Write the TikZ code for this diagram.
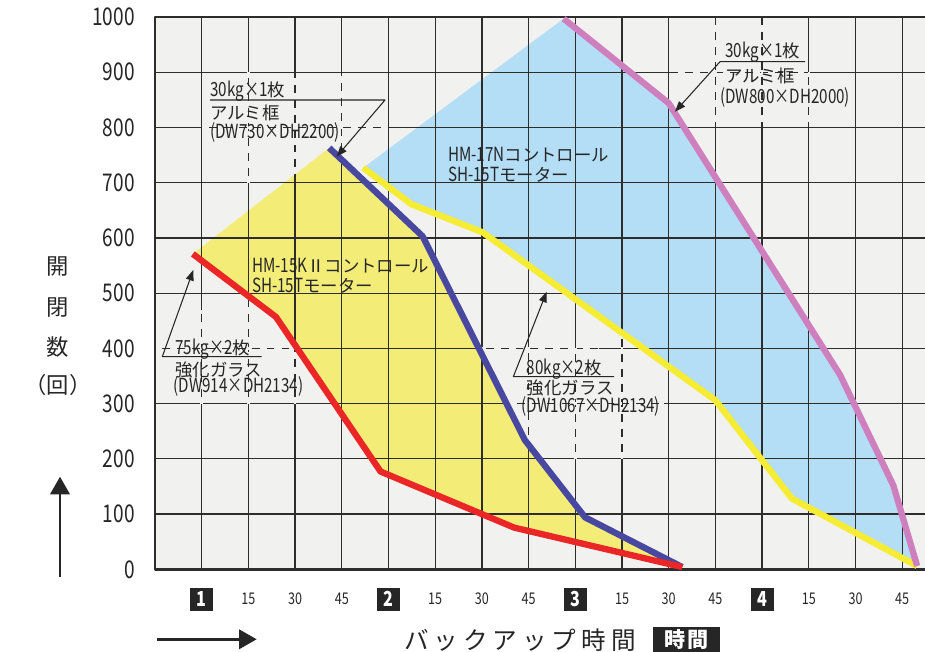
\documentclass[tikz,border=0pt]{standalone}
\usepackage{fontspec}
\setmainfont{Noto Sans CJK JP}
\newfontfamily\cnd{Noto Sans CJK JP}[FakeStretch=0.78, Scale=1.12]
\usetikzlibrary{arrows.meta}

\definecolor{plotbg}{RGB}{241,241,239}
\definecolor{gridcol}{RGB}{45,45,45}
\definecolor{fillyel}{RGB}{243,237,120}
\definecolor{fillblu}{RGB}{180,221,246}
\definecolor{redline}{RGB}{234,38,38}
\definecolor{bluline}{RGB}{72,72,160}
\definecolor{yelline}{RGB}{246,236,52}
\definecolor{pinkline}{RGB}{206,128,190}
\definecolor{inkcol}{RGB}{38,38,38}

\begin{document}
\begin{tikzpicture}[x=0.934cm, y=1.1046cm, line join=round,
        grid_style/.style={draw=gridcol, line width=0.7pt},
        frame_style/.style={draw=gridcol, line width=1.5pt},
        erase_style/.style={draw=plotbg, line width=1.4pt, dash pattern=on 4pt off 4.5pt},
        curve_style/.style={line width=3.6pt},
        note_line/.style={draw=inkcol, line width=0.6pt, -{Triangle[length=6pt,width=4.5pt]}},
        big_arrow/.style={draw=inkcol, line width=1.4pt, -{Triangle[length=10pt,width=11pt]}},
        ytick_style/.style={anchor=east, inner sep=0pt, text=inkcol, font=\fontsize{12.4}{13}\cnd},
        xtick_style/.style={inner sep=0pt, text=inkcol, font=\fontsize{8.2}{9}\cnd},
        hour_style/.style={fill=black!85, text=white, inner sep=0pt, minimum width=0.46cm, minimum height=0.46cm, font=\fontsize{10.5}{11}\cnd\bfseries},
        ylabel_style/.style={inner sep=0pt, text=inkcol, font=\fontsize{12.7}{13}\selectfont},
        note_style/.style={anchor=west, inner sep=0pt, text=inkcol, text height=1.6ex, text depth=0.3ex, font=\fontsize{9.9}{11}\selectfont},
        title_style/.style={inner sep=0pt, text=inkcol, font=\fontsize{14}{14}\selectfont\addfontfeature{LetterSpace=20}},
        unit_style/.style={fill=black!85, text=white, inner sep=0pt, minimum width=1.34cm, minimum height=0.506cm, font=\fontsize{12}{12}\selectfont\bfseries\addfontfeature{LetterSpace=10}}]

        \useasboundingbox (-3.319,-1.497) rectangle (16.488,10.308);

        % curve points
        \coordinate (red0) at (0.81,5.71);
        \coordinate (red1) at (2.59,4.57);
        \coordinate (red2) at (4.83,1.77);
        \coordinate (red3) at (7.69,0.755);
        \coordinate (red4) at (11.29,0.04);

        \coordinate (blu0) at (3.73,7.63);
        \coordinate (blu1) at (5.73,6.03);
        \coordinate (blu2) at (7.92,2.34);
        \coordinate (blu3) at (9.21,0.94);

        \coordinate (yel0) at (4.46,7.27);
        \coordinate (yel1) at (5.49,6.61);
        \coordinate (yel2) at (7.02,6.10);
        \coordinate (yel3) at (12,3.06);
        \coordinate (yel4) at (13.64,1.28);
        \coordinate (yel5) at (16.32,0.06);

        \coordinate (pnk0) at (8.75,9.97);
        \coordinate (pnk1) at (11.0,8.44);
        \coordinate (pnk2) at (14.67,3.52);
        \coordinate (pnk3) at (15.81,1.52);

        % plot area and fills
        \fill [plotbg] (0,0) rectangle (16.488,10);

        \fill [fillyel] (red0) -- (blu0) -- (blu1) -- (blu2) -- (blu3) -- (red4) -- (red3) -- (red2) -- (red1) -- cycle;

        \fill [fillblu] (yel0) -- (pnk0) -- (pnk1) -- (pnk2) -- (pnk3) -- (yel5) -- (yel4) -- (yel3) -- (yel2) -- (yel1) -- cycle;

        % grid
        \foreach \k in {1,...,16}
            \draw [grid_style] (\k,0) -- (\k,10);
        \foreach \j in {1,...,9}
            \draw [grid_style] (0,\j) -- (16.488,\j);

        % grid lines broken behind the notes
        \draw [erase_style] (2,7) -- (2,9);
        \draw [erase_style] (3,7.15) -- (3,9);
        \draw [erase_style] (4,7.45) -- (4,9);
        \draw [erase_style] (1,8) -- (5,8);

        \draw [erase_style] (1,3) -- (1,4.7);
        \draw [erase_style] (2,3) -- (2,4.9);
        \draw [erase_style] (3,3) -- (3,4);
        \draw [erase_style] (0,4) -- (3.05,4);

        \draw [erase_style] (8,2.3) -- (8,4);
        \draw [erase_style] (9,2) -- (9,4);
        \draw [erase_style] (10,2) -- (10,4.25);
        \draw [erase_style] (6.93,4) -- (9.5,4);
        \draw [erase_style] (7.6,3) -- (10.9,3);

        \draw [erase_style] (12,8.1) -- (12,9.97);
        \draw [erase_style] (13,8.1) -- (13,9.97);
        \draw [erase_style] (14,8.1) -- (14,9);
        \draw [erase_style] (11.2,9) -- (13.9,9);

        % frame
        \draw [frame_style] (16.488,10) -- (0,10) -- (0,0) -- (16.488,0);

        % curves
        \draw [curve_style, draw=yelline] (yel0) -- (yel1) -- (yel2) -- (yel3) -- (yel4) -- (yel5);
        \draw [curve_style, draw=pinkline] (pnk0) -- (pnk1) -- (pnk2) -- (pnk3) -- (yel5);
        \draw [curve_style, draw=bluline] (blu0) -- (blu1) -- (blu2) -- (blu3) -- (red4);
        \draw [curve_style, draw=redline] (red0) -- (red1) -- (red2) -- (red3) -- (red4);

        % y ticks
        \node [ytick_style] (t0) at (-0.428,0) {0};
        \node [ytick_style] (t1) at (-0.428,1) {100};
        \node [ytick_style] (t2) at (-0.428,2) {200};
        \node [ytick_style] (t3) at (-0.428,3) {300};
        \node [ytick_style] (t4) at (-0.428,4) {400};
        \node [ytick_style] (t5) at (-0.428,5) {500};
        \node [ytick_style] (t6) at (-0.428,6) {600};
        \node [ytick_style] (t7) at (-0.428,7) {700};
        \node [ytick_style] (t8) at (-0.428,8) {800};
        \node [ytick_style] (t9) at (-0.428,9) {900};
        \node [ytick_style] (t10) at (-0.428,10) {1000};

        % x ticks
        \node [hour_style] (h1) at (1,-0.54) {1};
        \node [xtick_style] (x2) at (2,-0.54) {15};
        \node [xtick_style] (x3) at (3,-0.54) {30};
        \node [xtick_style] (x4) at (4,-0.54) {45};
        \node [hour_style] (h2) at (5,-0.54) {2};
        \node [xtick_style] (x6) at (6,-0.54) {15};
        \node [xtick_style] (x7) at (7,-0.54) {30};
        \node [xtick_style] (x8) at (8,-0.54) {45};
        \node [hour_style] (h3) at (9,-0.54) {3};
        \node [xtick_style] (x10) at (10,-0.54) {15};
        \node [xtick_style] (x11) at (11,-0.54) {30};
        \node [xtick_style] (x12) at (12,-0.54) {45};
        \node [hour_style] (h4) at (13,-0.54) {4};
        \node [xtick_style] (x14) at (14,-0.54) {15};
        \node [xtick_style] (x15) at (15,-0.54) {30};
        \node [xtick_style] (x16) at (16,-0.54) {45};

        % axis titles
        \node [ylabel_style] (ya) at (-2.077,5.479) {開};
        \node [ylabel_style] (yb) at (-2.077,4.749) {閉};
        \node [ylabel_style] (yc) at (-2.077,4.025) {数};
        \node [ylabel_style] (yd) at (-2.077,3.337) {（回）};

        \coordinate (up_from) at (-2.034,-0.134);
        \coordinate (up_to) at (-2.034,1.677);
        \draw [big_arrow] (up_from) -- (up_to);

        \coordinate (right_from) at (0.036,-1.267);
        \coordinate (right_to) at (2.177,-1.267);
        \draw [big_arrow] (right_from) -- (right_to);

        \node [title_style] (xtitle) at (7.816,-1.28) {バックアップ時間};
        \node [unit_style] (xunit) at (11.38,-1.268) {時間};

        % labels inside the fills
        \node [note_style] (hm17a) at (6.27,7.501) {{\cnd HM-17N}コントロール};
        \node [note_style] (hm17b) at (6.27,7.139) {{\cnd SH-15T}モーター};
        \node [note_style] (hm15a) at (2.07,5.479) {{\cnd HM-15K}Ⅱコントロール};
        \node [note_style] (hm15b) at (2.07,5.117) {{\cnd SH-15T}モーター};

        % note: 30kg x 1 (left)
        \coordinate (a_left) at (1.178,8.497);
        \coordinate (a_right) at (4.925,8.497);
        \coordinate (a_tip) at (3.889,7.471);
        \draw [note_line] (a_left) -- (a_right) -- (a_tip);
        \node [note_style] (a1) at (1.178,8.664) {{\cnd 30kg×1}枚};
        \node [note_style] (a2) at (1.178,8.249) {アルミ框};
        \node [note_style] (a3) at (1.178,7.909) {\cnd (DW730×DH2200)};

        % note: 75kg x 2
        \coordinate (b_right) at (2.285,3.849);
        \coordinate (b_left) at (0.156,3.849);
        \coordinate (b_tip) at (0.82,5.419);
        \draw [note_line] (b_right) -- (b_left) -- (b_tip);
        \node [note_style] (b1) at (0.428,4.001) {{\cnd 75kg×2}枚};
        \node [note_style] (b2) at (0.428,3.609) {強化ガラス};
        \node [note_style] (b3) at (0.392,3.306) {\cnd (DW914×DH2134)};

        % note: 80kg x 2
        \coordinate (c_right) at (9.83,3.487);
        \coordinate (c_left) at (7.673,3.487);
        \coordinate (c_tip) at (8.387,5.026);
        \draw [note_line] (c_right) -- (c_left) -- (c_tip);
        \node [note_style] (c1) at (7.956,3.639) {{\cnd 80kg×2}枚};
        \node [note_style] (c2) at (7.956,3.27) {強化ガラス};
        \node [note_style] (c3) at (7.848,2.95) {\cnd (DW1067×DH2134)};

        % note: 30kg x 1 (right)
        \coordinate (d_right) at (13.919,9.191);
        \coordinate (d_left) at (12.099,9.191);
        \coordinate (d_tip) at (11.135,8.285);
        \draw [note_line] (d_right) -- (d_left) -- (d_tip);
        \node [note_style] (d1) at (12.206,9.372) {{\cnd 30kg×1}枚};
        \node [note_style] (d2) at (12.206,8.935) {アルミ框};
        \node [note_style] (d3) at (12.099,8.543) {\cnd (DW800×DH2000)};

\end{tikzpicture}
\end{document}
